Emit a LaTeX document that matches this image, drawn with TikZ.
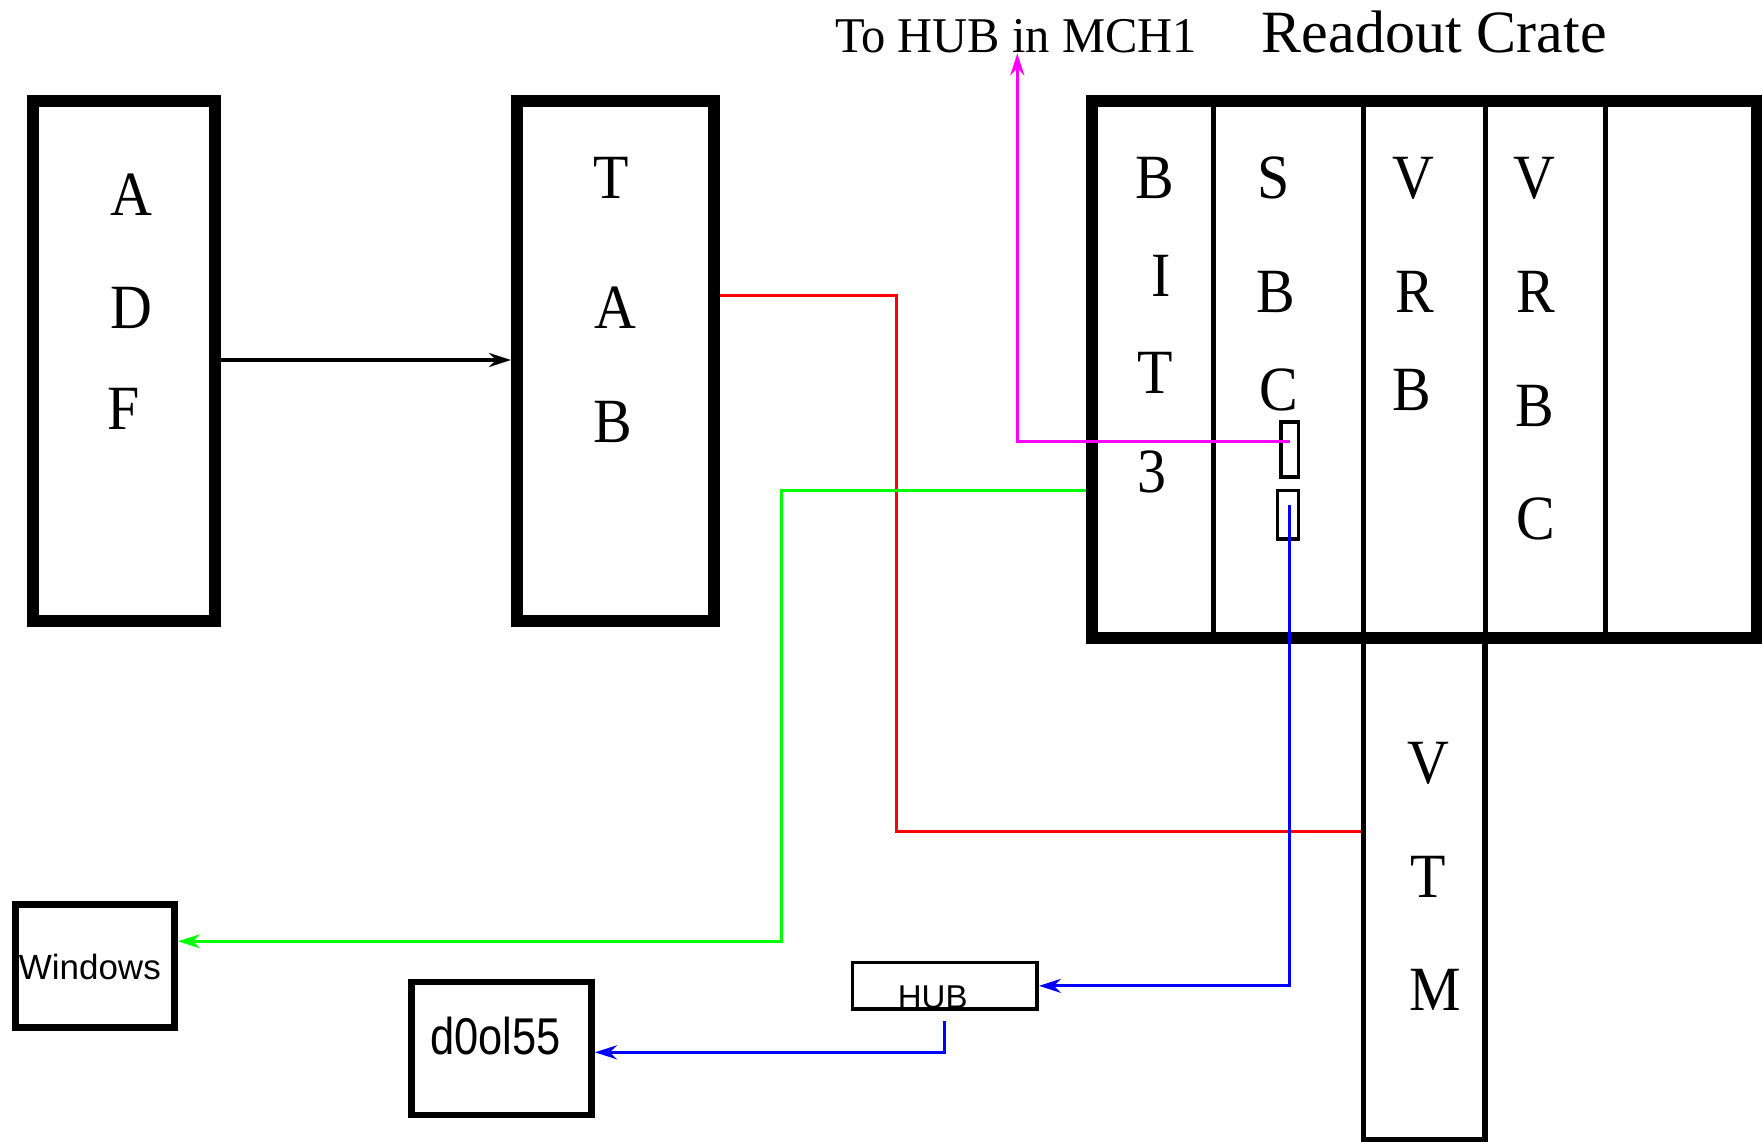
\documentclass[tikz,border=0pt]{standalone}
\usepackage{fontspec}
\setmainfont{Liberation Serif}
\newfontfamily\letf[FakeStretch=0.92]{Liberation Serif}
\newfontfamily\capf[FakeStretch=0.97]{Liberation Serif}
\newfontfamily\sansf{Liberation Sans}
\newfontfamily\narrowf[FakeStretch=0.84]{Liberation Sans}
\usetikzlibrary{arrows.meta}
\definecolor{wmag}{RGB}{255,0,255}
\definecolor{wgreen}{RGB}{0,255,0}
\definecolor{wred}{RGB}{255,0,0}
\definecolor{wblue}{RGB}{0,0,255}
\begin{document}
\begin{tikzpicture}[x=1pt,y=-1pt,
  box/.style={draw, inner sep=0pt},
  bigl/.style={font=\letf\fontsize{63}{63}\selectfont, inner sep=0pt},
  wire/.style={line width=3.2pt},
  tip/.style={-{Stealth[length=22pt,width=14pt]}}]
\useasboundingbox (0,0) rectangle (1762,1142);

% boxes
\node[box, line width=12.5pt, minimum width=181.6pt, minimum height=519.6pt] (ADF) at (124,361) {};
\node[box, line width=12pt, minimum width=197pt, minimum height=519.6pt] (TAB) at (615.5,361) {};
\node[box, line width=5.5pt, minimum width=121.5pt, minimum height=501.4pt] (VTM) at (1424.25,888.7) {};
\draw[line width=5pt] (1213,101.5) -- (1213,638);
\draw[line width=5pt] (1363.5,101.5) -- (1363.5,638);
\draw[line width=5pt] (1485,101.5) -- (1485,638);
\draw[line width=5pt] (1605.7,101.5) -- (1605.7,638);
\node[box, line width=12pt, minimum width=664.5pt, minimum height=536.5pt] (crate) at (1424.25,369.75) {};
\node[box, line width=3.3pt, minimum width=17.3pt, minimum height=55pt] (port1) at (1289.65,449.5) {};
\node[box, line width=3.3pt, minimum width=20.6pt, minimum height=48.3pt] (port2) at (1288,514.85) {};
\node[box, line width=6.7pt, minimum width=159.5pt, minimum height=123pt] (Windows) at (94.95,965.8) {};
\node[box, line width=6.5pt, minimum width=180pt, minimum height=132.6pt] (d0) at (501.7,1048.5) {};
\node[box, line width=3.5pt, minimum width=184.7pt, minimum height=46.7pt] (HUB) at (944.85,985.85) {};

% letters
\node[bigl] (adfA) at (131,195) {A};
\node[bigl] (adfD) at (131,308) {D};
\node[bigl] (adfF) at (124,409) {F};
\node[bigl] (tabT) at (611,178) {T};
\node[bigl] (tabA) at (615.6,308) {A};
\node[bigl] (tabB) at (612.6,421.6) {B};
\node[bigl] (bitB) at (1155,178) {B};
\node[bigl] (bitI) at (1161,276) {I};
\node[bigl] (bitT) at (1155,373) {T};
\node[bigl] (bit3) at (1152,472) {3};
\node[bigl] (sbcS) at (1274,178) {S};
\node[bigl] (sbcB) at (1276,292) {B};
\node[bigl] (sbcC) at (1279,389.5) {C};
\node[bigl] (vrbV) at (1413.6,178) {V};
\node[bigl] (vrbR) at (1415,292) {R};
\node[bigl] (vrbB) at (1412,389.5) {B};
\node[bigl] (vrbcV) at (1534.5,178) {V};
\node[bigl] (vrbcR) at (1536,292) {R};
\node[bigl] (vrbcB) at (1534.5,406) {B};
\node[bigl] (vrbcC) at (1536,519) {C};
\node[bigl] (vtmV) at (1428,763) {V};
\node[bigl] (vtmT) at (1428.5,877) {T};
\node[bigl] (vtmM) at (1435,990) {M};

% texts
\node[anchor=base west, inner sep=0pt, font=\capf\fontsize{50}{50}\selectfont] (tohub) at (835,52.3) {To HUB in MCH1};
\node[anchor=base west, inner sep=0pt, font=\fontsize{60}{60}\selectfont] (rc) at (1261.7,52.3) {Readout Crate};
\node[anchor=base west, inner sep=0pt, font=\sansf\fontsize{35}{35}\selectfont] (wintext) at (18.6,979) {Windows};
\node[anchor=base west, inner sep=0pt, font=\narrowf\fontsize{51.7}{51.7}\selectfont] (d0text) at (430,1054) {d0ol55};
\node[anchor=base west, inner sep=0pt, font=\sansf\fontsize{33}{33}\selectfont] (hubtext) at (897.7,1008.3) {HUB};

% helper coordinates
\coordinate (yblk) at (0,360);
\coordinate (yred) at (0,295.3);
\coordinate (rc1) at (896.3,831.3);
\coordinate (ymag) at (0,441.3);
\coordinate (mtip) at (1017.3,53.3);
\coordinate (ygrn) at (0,490.3);
\coordinate (gc) at (781.3,941.3);
\coordinate (b0) at (1289.3,505);
\coordinate (yb2) at (0,1052.3);

% connectors
\draw[line width=3.5pt, tip] (ADF.east |- yblk) -- (TAB.west |- yblk);
\draw[wire, wred] (TAB.east |- yred) -| (rc1) -- (VTM.west |- rc1);
\draw[wire, wmag, tip] (port1.center |- ymag) -| (mtip);
\draw[wire, wgreen, tip] (crate.west |- ygrn) -| (gc) -- (Windows.east |- gc);
\draw[wire, wblue, tip] (b0) |- (HUB.east);
\draw[wire, wblue, tip] ([yshift=-10pt]HUB.south) |- (d0.east |- yb2);
\end{tikzpicture}
\end{document}
